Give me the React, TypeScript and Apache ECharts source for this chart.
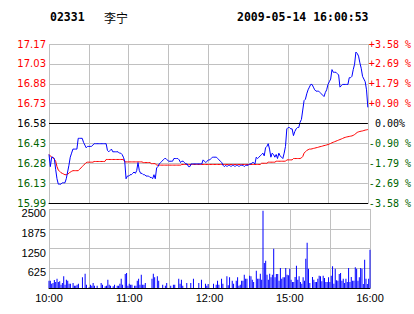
import React, { useEffect, useRef } from 'react';
import * as echarts from 'echarts';

const stockCode = '02331';
const stockName = '李宁';
const timestamp = '2009-05-14 16:00:53';
const prevClose = 16.58;
const priceStep = 0.1475;

const priceTickLabels = ['15.99', '16.13', '16.28', '16.43', '16.58', '16.73', '16.88', '17.03', '17.17'];
const pctTickLabels = ['-3.58 %', '-2.69 %', '-1.79 %', '-0.90 %', ' 0.00%', '+0.90 %', '+1.79 %', '+2.69 %', '+3.58 %'];
const volumeMax = 2500;
const volumeInterval = 625;
const timeLabels = ['10:00', '11:00', '12:00', '15:00', '16:00'];

const prices = [
  16.35, 16.26, 16.33, 16.33, 16.32, 16.24, 16.17, 16.13, 16.13, 16.13,
  16.14, 16.14, 16.14, 16.17, 16.22, 16.27, 16.33, 16.36, 16.39, 16.39,
  16.39, 16.39, 16.47, 16.47, 16.47, 16.47, 16.44, 16.42, 16.40, 16.41,
  16.41, 16.41, 16.41, 16.42, 16.43, 16.43, 16.43, 16.43, 16.43, 16.43,
  16.43, 16.43, 16.43, 16.43, 16.38, 16.37, 16.38, 16.39, 16.37, 16.37,
  16.37, 16.37, 16.37, 16.36, 16.36, 16.35, 16.33, 16.30, 16.17, 16.19,
  16.19, 16.20, 16.20, 16.21, 16.22, 16.21, 16.23, 16.29, 16.23, 16.21,
  16.21, 16.20, 16.20, 16.19, 16.19, 16.19, 16.18, 16.18, 16.17, 16.20,
  16.17, 16.25, 16.26, 16.28, 16.29, 16.30, 16.31, 16.32, 16.32, 16.31,
  16.30, 16.30, 16.30, 16.30, 16.32, 16.32, 16.32, 16.32, 16.31, 16.29,
  16.30, 16.30, 16.29, 16.28, 16.28, 16.26, 16.26, 16.28, 16.28, 16.28,
  16.28, 16.28, 16.28, 16.28, 16.28, 16.28, 16.31, 16.30, 16.29, 16.30,
  16.31, 16.31, 16.32, 16.33, 16.33, 16.33, 16.33, 16.32, 16.31, 16.30,
  16.29, 16.27, 16.26, 16.27, 16.26, 16.27, 16.27, 16.26, 16.27, 16.27,
  16.26, 16.27, 16.27, 16.26, 16.27, 16.27, 16.27, 16.26, 16.27, 16.27,
  16.27, 16.28, 16.28, 16.29, 16.29, 16.28, 16.33, 16.32, 16.33, 16.34,
  16.35, 16.36, 16.34, 16.40, 16.41, 16.43, 16.39, 16.33, 16.36, 16.35,
  16.33, 16.35, 16.32, 16.36, 16.34, 16.33, 16.32, 16.36, 16.41, 16.54,
  16.55, 16.55, 16.54, 16.54, 16.49, 16.52, 16.54, 16.55, 16.55, 16.59,
  16.61, 16.68, 16.75, 16.76, 16.80, 16.83, 16.85, 16.87, 16.87, 16.85,
  16.83, 16.82, 16.82, 16.82, 16.81, 16.80, 16.79, 16.78, 16.81, 16.83,
  16.87, 16.89, 16.91, 16.98, 16.96, 16.96, 16.96, 16.95, 16.94, 16.85,
  16.86, 16.87, 16.87, 16.87, 16.87, 16.87, 16.92, 16.92, 16.93, 16.98,
  17.02, 17.11, 17.10, 17.08, 17.03, 16.99, 16.93, 16.91, 16.89, 16.83,
  16.70,
];

const avgPrices = [
  16.350, 16.340, 16.330, 16.325, 16.315, 16.300, 16.260, 16.235, 16.225, 16.215,
  16.210, 16.205, 16.200, 16.200, 16.205, 16.210, 16.220, 16.225, 16.230, 16.230,
  16.230, 16.230, 16.230, 16.240, 16.250, 16.260, 16.270, 16.280, 16.290, 16.293,
  16.293, 16.293, 16.293, 16.293, 16.298, 16.298, 16.298, 16.298, 16.298, 16.298,
  16.298, 16.298, 16.298, 16.313, 16.313, 16.313, 16.313, 16.313, 16.313, 16.313,
  16.313, 16.313, 16.313, 16.313, 16.313, 16.313, 16.313, 16.295, 16.295, 16.295,
  16.295, 16.295, 16.295, 16.295, 16.295, 16.295, 16.295, 16.295, 16.295, 16.295,
  16.295, 16.290, 16.290, 16.290, 16.290, 16.290, 16.290, 16.282, 16.282, 16.282,
  16.282, 16.271, 16.271, 16.271, 16.271, 16.271, 16.271, 16.271, 16.271, 16.271,
  16.271, 16.271, 16.271, 16.271, 16.271, 16.271, 16.271, 16.271, 16.271, 16.271,
  16.276, 16.276, 16.276, 16.276, 16.276, 16.276, 16.276, 16.276, 16.276, 16.276,
  16.276, 16.276, 16.276, 16.276, 16.276, 16.276, 16.276, 16.276, 16.276, 16.276,
  16.276, 16.276, 16.276, 16.276, 16.276, 16.276, 16.276, 16.276, 16.276, 16.276,
  16.276, 16.276, 16.276, 16.276, 16.276, 16.276, 16.276, 16.276, 16.276, 16.276,
  16.276, 16.276, 16.276, 16.276, 16.276, 16.276, 16.276, 16.276, 16.276, 16.276,
  16.276, 16.276, 16.276, 16.276, 16.276, 16.276, 16.276, 16.276, 16.276, 16.276,
  16.285, 16.285, 16.285, 16.285, 16.285, 16.293, 16.293, 16.293, 16.293, 16.293,
  16.293, 16.300, 16.300, 16.300, 16.300, 16.300, 16.300, 16.300, 16.300, 16.310,
  16.310, 16.310, 16.310, 16.310, 16.320, 16.320, 16.320, 16.320, 16.320, 16.320,
  16.325, 16.335, 16.360, 16.370, 16.380, 16.385, 16.390, 16.390, 16.392, 16.395,
  16.397, 16.400, 16.402, 16.405, 16.408, 16.410, 16.413, 16.416, 16.418, 16.421,
  16.424, 16.428, 16.432, 16.437, 16.441, 16.445, 16.449, 16.453, 16.457, 16.461,
  16.465, 16.469, 16.474, 16.477, 16.480, 16.482, 16.484, 16.486, 16.488, 16.492,
  16.498, 16.506, 16.514, 16.518, 16.521, 16.523, 16.525, 16.528, 16.531, 16.533,
  16.535,
];

const volumes = [
  232, 232, 137, 158, 253, 189, 295, 189, 210, 105,
  158, 369, 105, 263, 232, 137, 137, 0, 158, 74,
  74, 105, 137, 0, 0, 337, 0, 453, 105, 0,
  21, 105, 74, 158, 74, 0, 74, 0, 0, 158,
  105, 0, 53, 74, 263, 105, 74, 0, 53, 105,
  0, 74, 74, 137, 295, 105, 0, 442, 474, 74,
  137, 105, 105, 0, 74, 74, 232, 295, 105, 421,
  105, 105, 158, 0, 0, 0, 0, 295, 453, 337,
  0, 369, 232, 0, 0, 105, 0, 74, 158, 0,
  0, 74, 0, 105, 105, 0, 0, 295, 137, 263,
  74, 0, 0, 158, 0, 0, 158, 0, 295, 0,
  0, 0, 158, 0, 263, 0, 0, 137, 74, 126,
  0, 0, 0, 137, 0, 105, 232, 105, 0, 295,
  137, 0, 0, 369, 84, 337, 0, 232, 137, 0,
  232, 337, 74, 105, 232, 232, 421, 295, 295, 0,
  390, 369, 263, 189, 0, 548, 295, 295, 453, 263,
  2443, 790, 864, 421, 263, 453, 337, 421, 1243, 337,
  442, 442, 232, 632, 295, 337, 337, 632, 421, 400,
  611, 263, 189, 189, 347, 706, 263, 369, 189, 137,
  337, 232, 927, 1432, 611, 158, 0, 347, 263, 189,
  189, 295, 390, 369, 210, 390, 316, 189, 189, 337,
  189, 390, 685, 137, 611, 242, 232, 442, 474, 232,
  295, 158, 295, 189, 632, 189, 347, 232, 232, 653,
  611, 232, 337, 632, 611, 126, 896, 295, 126, 295,
  1211,
];

function buildTimes(): string[] {
  const out: string[] = [];
  const pad = (n: number) => (n < 10 ? '0' + n : '' + n);
  for (let m = 10 * 60; m <= 12 * 60 + 30; m++) out.push(pad(Math.floor(m / 60)) + ':' + pad(m % 60));
  for (let m = 14 * 60 + 31; m <= 16 * 60; m++) out.push(pad(Math.floor(m / 60)) + ':' + pad(m % 60));
  return out;
}

const RED = '#ff0000';
const GREEN = '#006400';
const GRID = '#c0c0c0';

export default function App() {
  const ref = useRef<HTMLDivElement>(null);
  useEffect(() => {
    if (!ref.current) return;
    const chart = echarts.init(ref.current, undefined, { renderer: 'svg' });
    const times = buildTimes();
    const toStep = (p: number) => (p - prevClose) / priceStep;
    const labelColor = (v: any) => {
      const n = Math.round(Number(v));
      return n > 0 ? RED : n < 0 ? GREEN : '#000000';
    };
    const splitEvery30 = (i: number) => i % 30 === 0;
    const labelEvery60 = (i: number) => i % 60 === 0;

    chart.setOption({
      animation: false,
      backgroundColor: '#ffffff',
      graphic: [
        { type: 'text', x: 50, y: 17, style: { text: stockCode, fontFamily: 'DejaVu Sans Mono', fontWeight: 'bold', fontSize: 11.5, fill: '#000', verticalAlign: 'middle' } },
        { type: 'text', x: 104, y: 17, style: { text: stockName, fontFamily: 'Noto Sans CJK SC', fontSize: 12, fill: '#000', verticalAlign: 'middle' } },
        { type: 'text', x: 237, y: 17, style: { text: timestamp, fontFamily: 'DejaVu Sans Mono', fontWeight: 'bold', fontSize: 11.5, fill: '#000', verticalAlign: 'middle' } },
      ],
      grid: [
        { left: 49, top: 44, width: 321, height: 159 },
        { left: 49, top: 209, width: 321, height: 79 },
      ],
      xAxis: [
        {
          type: 'category', gridIndex: 0, data: times, boundaryGap: false,
          axisLine: { show: true, onZero: false, lineStyle: { color: '#000', width: 1 } },
          axisTick: { show: false }, axisLabel: { show: false },
          splitLine: { show: true, interval: splitEvery30, lineStyle: { color: GRID, width: 1 } },
        },
        {
          type: 'category', gridIndex: 1, data: times, boundaryGap: false,
          axisLine: { show: true, onZero: false, lineStyle: { color: '#000', width: 1 } },
          axisTick: { show: false },
          axisLabel: {
            show: true, interval: labelEvery60, margin: 4, color: '#000',
            fontFamily: 'Liberation Sans', fontSize: 11,
            formatter: (v: string) => (timeLabels.indexOf(v) >= 0 ? v : ''),
          },
          splitLine: { show: true, interval: splitEvery30, lineStyle: { color: GRID, width: 1 } },
        },
      ],
      yAxis: [
        {
          type: 'value', gridIndex: 0, min: -4, max: 4, interval: 1, position: 'left',
          axisLine: { show: false }, axisTick: { show: false },
          axisLabel: {
            margin: 3, fontFamily: 'DejaVu Sans', fontSize: 10, lineHeight: 10,
            color: labelColor,
            formatter: (v: number) => priceTickLabels[Math.round(v) + 4],
          },
          splitLine: { show: true, lineStyle: { color: GRID, width: 1 } },
        },
        {
          type: 'value', gridIndex: 0, min: -4, max: 4, interval: 1, position: 'right',
          axisLine: { show: false }, axisTick: { show: false },
          axisLabel: {
            margin: 1, fontFamily: 'DejaVu Sans Mono', fontSize: 10, lineHeight: 10,
            color: labelColor,
            formatter: (v: number) => pctTickLabels[Math.round(v) + 4].replace(/ /g, '\u00a0'),
          },
          splitLine: { show: false },
        },
        {
          type: 'value', gridIndex: 1, min: 0, max: volumeMax, interval: volumeInterval,
          axisLine: { show: false }, axisTick: { show: false },
          axisLabel: {
            showMinLabel: false, margin: 3, color: '#000',
            fontFamily: 'Liberation Sans', fontSize: 11, lineHeight: 8, verticalAlign: 'top',
            formatter: (v: number) => String(Math.round(v)),
          },
          splitLine: { show: true, lineStyle: { color: GRID, width: 1 } },
        },
      ],
      series: [
        {
          type: 'line', xAxisIndex: 0, yAxisIndex: 0,
          data: avgPrices.map(toStep), showSymbol: false, symbol: 'none',
          lineStyle: { color: RED, width: 1 }, itemStyle: { color: RED },
          markLine: {
            silent: true, symbol: ['none', 'none'], label: { show: false },
            lineStyle: { color: '#000', width: 1, type: 'solid' },
            data: [{ yAxis: 0 }, { yAxis: -4 }],
          },
          z: 3,
        },
        {
          type: 'line', xAxisIndex: 0, yAxisIndex: 0,
          data: prices.map(toStep), showSymbol: false, symbol: 'none',
          lineStyle: { color: '#0000ff', width: 1 }, itemStyle: { color: '#0000ff' },
          z: 4,
        },
        {
          type: 'bar', xAxisIndex: 1, yAxisIndex: 2,
          data: volumes, barWidth: 1, itemStyle: { color: '#0000ff' },
        },
      ],
    });
    return () => chart.dispose();
  }, []);
  return <div ref={ref} style={{ position: 'fixed', left: 0, top: 0, width: 414, height: 314, background: '#fff' }} />;
}
